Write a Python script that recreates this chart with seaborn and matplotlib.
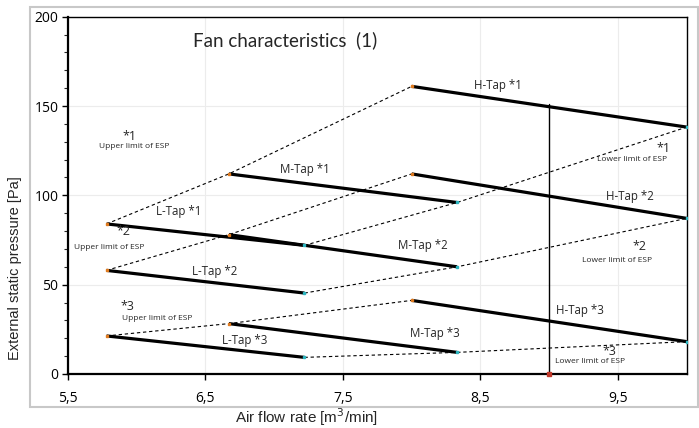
import matplotlib
matplotlib.use('Agg')
import matplotlib.pyplot as plt
import matplotlib.ticker as mticker
from matplotlib.patches import Rectangle
import seaborn as sns
import pandas as pd

# fan curves: one line per tap (L/M/H) and per case (*1..*3)
taps        = ['L', 'M', 'H']
cases       = ['1', '2', '3']
flow_start  = [5.78, 6.67, 8.0]
flow_end    = [7.22, 8.33, 10.0]
# rows = case *1, *2, *3 ; columns = L, M, H
p_start = [[84.0, 112.0, 161.0],
           [58.0, 78.0, 112.0],
           [21.3, 28.2, 41.2]]
p_end   = [[72.0, 96.0, 138.2],
           [45.3, 60.0, 87.1],
           [9.3, 12.1, 18.1]]

op_flow = 9.0      # operating point marker line
op_top  = 151.0

x_ticks = [5.5, 6.5, 7.5, 8.5, 9.5]
y_ticks = [0, 50, 100, 150, 200]

# long-form tables
rows = []
for ci, c in enumerate(cases):
    for ti, t in enumerate(taps):
        rows.append(dict(curve=f'{t}{c}', flow=flow_start[ti], esp=p_start[ci][ti]))
        rows.append(dict(curve=f'{t}{c}', flow=flow_end[ti], esp=p_end[ci][ti]))
curves = pd.DataFrame(rows)

lim_rows = []
for ci, c in enumerate(cases):
    for ti in range(3):
        lim_rows.append(dict(lim=f'up{c}', flow=flow_start[ti], esp=p_start[ci][ti]))
        lim_rows.append(dict(lim=f'lo{c}', flow=flow_end[ti], esp=p_end[ci][ti]))
limits = pd.DataFrame(lim_rows)

sns.set_style('white')
plt.rcParams['font.family'] = ['Open Sans', 'DejaVu Sans']
narrow = ['Liberation Sans Narrow', 'Liberation Sans', 'DejaVu Sans']

fig = plt.figure(figsize=(6.99, 4.28), dpi=100)
ax = fig.add_axes([0.0973, 0.1262, 0.8851, 0.8348])

sns.lineplot(data=limits, x='flow', y='esp', units='lim', estimator=None,
             color='black', lw=0.8, ls=(0, (3, 2.5)), ax=ax, legend=False, sort=False)
sns.lineplot(data=curves, x='flow', y='esp', units='curve', estimator=None,
             color='black', lw=2.3, ax=ax, legend=False, solid_capstyle='butt')

# small end markers
for ti in range(3):
    for ci in range(3):
        ax.plot(flow_start[ti], p_start[ci][ti], marker='s', ms=1.5, color='#e07b20', zorder=4)
        ax.plot(flow_end[ti], p_end[ci][ti], marker='s', ms=1.5, color='#2cb5c0', zorder=4)

ax.plot([op_flow, op_flow], [0, op_top], color='black', lw=1.0)
ax.plot(op_flow, 0, marker='s', ms=3, color='#c0392b', zorder=5, clip_on=False)

ax.set_xlim(5.5, 10.0)
ax.set_ylim(0, 200)
ax.set_xticks(x_ticks)
ax.set_yticks(y_ticks)
ax.yaxis.set_minor_locator(mticker.MultipleLocator(10))
ax.xaxis.set_major_formatter(mticker.FuncFormatter(lambda v, p: f'{v:.1f}'.replace('.', ',')))
ax.tick_params(axis='both', which='major', direction='out', length=4, width=1,
               labelsize=10, colors='black', pad=8)
ax.tick_params(axis='y', which='minor', direction='out', length=3, width=0.8, left=True)
ax.tick_params(axis='y', which='major', left=True, pad=3)
ax.tick_params(axis='x', which='major', bottom=True)
ax.grid(True, which='major', color='#ececec', lw=0.8)
ax.set_axisbelow(True)
for s in ax.spines.values():
    s.set_color('black')
    s.set_linewidth(1.0)
ax.spines['left'].set_linewidth(1.6)
ax.spines['bottom'].set_linewidth(1.6)
ax.set_xlabel('')
ax.set_ylabel('')

# outer chart border
fig.patches.append(Rectangle((30 / 699, 1 - 406.7 / 428), 668 / 699, 399.4 / 428,
                             transform=fig.transFigure, fill=False,
                             edgecolor='#c8c8c8', lw=1.5, zorder=0))
fig.text(307 / 699, 1 - 417 / 428, 'Air flow rate [m$^3$/min]', ha='center', va='center',
         fontsize=11, family=narrow)
fig.text(15 / 699, 1 - 268 / 428, 'External static pressure [Pa]', ha='center', va='center',
         rotation=90, fontsize=10.5, family=narrow)

ax.text(6.41, 187, 'Fan characteristics  (1)', fontsize=13.5, va='center',
        family=['Lato', 'DejaVu Sans'])

tap_lbl = dict(fontsize=8.3, ha='center', va='center')
ax.text(6.307, 90.7, 'L-Tap *1', **tap_lbl)
ax.text(7.224, 114.2, 'M-Tap *1', **tap_lbl)
ax.text(8.63, 161.5, 'H-Tap *1', **tap_lbl)
ax.text(6.57, 57.6, 'L-Tap *2', **tap_lbl)
ax.text(8.08, 72.2, 'M-Tap *2', **tap_lbl)
ax.text(9.587, 99.6, 'H-Tap *2', **tap_lbl)
ax.text(6.787, 18.5, 'L-Tap *3', **tap_lbl)
ax.text(8.169, 22.4, 'M-Tap *3', **tap_lbl)
ax.text(9.224, 35.8, 'H-Tap *3', **tap_lbl)

star = dict(fontsize=9, ha='center', va='center')
small = dict(fontsize=6, ha='center', va='center')
ax.text(5.95, 133, '*1', **star)
ax.text(5.98, 127.3, 'Upper limit of ESP', **small)
ax.text(5.9, 80, '*2', **star)
ax.text(5.8, 71, 'Upper limit of ESP', **small)
ax.text(5.93, 38, '*3', **star)
ax.text(6.15, 30.8, 'Upper limit of ESP', **small)
ax.text(9.834, 126.4, '*1', **star)
ax.text(9.6, 119.8, 'Lower limit of ESP', **small)
ax.text(9.66, 71.5, '*2', **star)
ax.text(9.49, 63.8, 'Lower limit of ESP', **small)
ax.text(9.44, 12.7, '*3', **star)
ax.text(9.296, 7.0, 'Lower limit of ESP', **small)

fig.savefig('out.png', dpi=100)
